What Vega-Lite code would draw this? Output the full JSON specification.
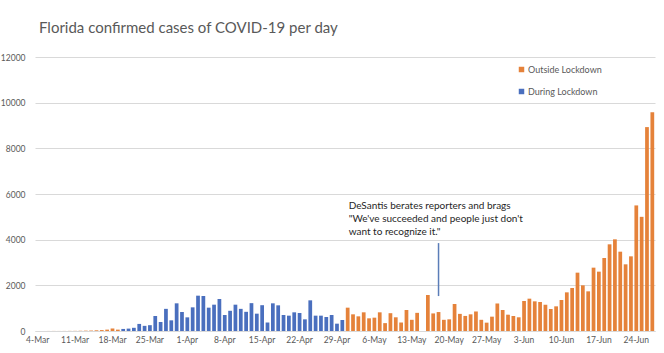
{
  "$schema": "https://vega.github.io/schema/vega-lite/v6.json",
  "width": 620,
  "height": 274,
  "autosize": {"type": "none"},
  "padding": {"left": 35, "top": 57, "right": 9, "bottom": 22},
  "title": {"text": "Florida confirmed cases of COVID-19 per day", "anchor": "start", "frame": "group", "dx": 4, "offset": 17, "fontSize": 15, "font": "Lato", "fontWeight": "normal", "color": "#595959"},
  "config": {"view": {"stroke": null}, "font": "Lato"},
  "datasets": {
    "cases": [
      {"date": "4-Mar", "cases": 1, "phase": "Outside Lockdown"},
      {"date": "5-Mar", "cases": 1, "phase": "Outside Lockdown"},
      {"date": "6-Mar", "cases": 2, "phase": "Outside Lockdown"},
      {"date": "7-Mar", "cases": 3, "phase": "Outside Lockdown"},
      {"date": "8-Mar", "cases": 2, "phase": "Outside Lockdown"},
      {"date": "9-Mar", "cases": 3, "phase": "Outside Lockdown"},
      {"date": "10-Mar", "cases": 5, "phase": "Outside Lockdown"},
      {"date": "11-Mar", "cases": 6, "phase": "Outside Lockdown"},
      {"date": "12-Mar", "cases": 10, "phase": "Outside Lockdown"},
      {"date": "13-Mar", "cases": 15, "phase": "Outside Lockdown"},
      {"date": "14-Mar", "cases": 20, "phase": "Outside Lockdown"},
      {"date": "15-Mar", "cases": 30, "phase": "Outside Lockdown"},
      {"date": "16-Mar", "cases": 40, "phase": "Outside Lockdown"},
      {"date": "17-Mar", "cases": 60, "phase": "Outside Lockdown"},
      {"date": "18-Mar", "cases": 110, "phase": "Outside Lockdown"},
      {"date": "19-Mar", "cases": 60, "phase": "Outside Lockdown"},
      {"date": "20-Mar", "cases": 90, "phase": "During Lockdown"},
      {"date": "21-Mar", "cases": 105, "phase": "During Lockdown"},
      {"date": "22-Mar", "cases": 140, "phase": "During Lockdown"},
      {"date": "23-Mar", "cases": 310, "phase": "During Lockdown"},
      {"date": "24-Mar", "cases": 225, "phase": "During Lockdown"},
      {"date": "25-Mar", "cases": 255, "phase": "During Lockdown"},
      {"date": "26-Mar", "cases": 657, "phase": "During Lockdown"},
      {"date": "27-Mar", "cases": 394, "phase": "During Lockdown"},
      {"date": "28-Mar", "cases": 970, "phase": "During Lockdown"},
      {"date": "29-Mar", "cases": 467, "phase": "During Lockdown"},
      {"date": "30-Mar", "cases": 1212, "phase": "During Lockdown"},
      {"date": "31-Mar", "cases": 832, "phase": "During Lockdown"},
      {"date": "1-Apr", "cases": 598, "phase": "During Lockdown"},
      {"date": "2-Apr", "cases": 1036, "phase": "During Lockdown"},
      {"date": "3-Apr", "cases": 1547, "phase": "During Lockdown"},
      {"date": "4-Apr", "cases": 1533, "phase": "During Lockdown"},
      {"date": "5-Apr", "cases": 1022, "phase": "During Lockdown"},
      {"date": "6-Apr", "cases": 1153, "phase": "During Lockdown"},
      {"date": "7-Apr", "cases": 1401, "phase": "During Lockdown"},
      {"date": "8-Apr", "cases": 700, "phase": "During Lockdown"},
      {"date": "9-Apr", "cases": 885, "phase": "During Lockdown"},
      {"date": "10-Apr", "cases": 1153, "phase": "During Lockdown"},
      {"date": "11-Apr", "cases": 970, "phase": "During Lockdown"},
      {"date": "12-Apr", "cases": 840, "phase": "During Lockdown"},
      {"date": "13-Apr", "cases": 1220, "phase": "During Lockdown"},
      {"date": "14-Apr", "cases": 759, "phase": "During Lockdown"},
      {"date": "15-Apr", "cases": 1130, "phase": "During Lockdown"},
      {"date": "16-Apr", "cases": 372, "phase": "During Lockdown"},
      {"date": "17-Apr", "cases": 1212, "phase": "During Lockdown"},
      {"date": "18-Apr", "cases": 1124, "phase": "During Lockdown"},
      {"date": "19-Apr", "cases": 700, "phase": "During Lockdown"},
      {"date": "20-Apr", "cases": 672, "phase": "During Lockdown"},
      {"date": "21-Apr", "cases": 818, "phase": "During Lockdown"},
      {"date": "22-Apr", "cases": 788, "phase": "During Lockdown"},
      {"date": "23-Apr", "cases": 511, "phase": "During Lockdown"},
      {"date": "24-Apr", "cases": 1343, "phase": "During Lockdown"},
      {"date": "25-Apr", "cases": 672, "phase": "During Lockdown"},
      {"date": "26-Apr", "cases": 672, "phase": "During Lockdown"},
      {"date": "27-Apr", "cases": 613, "phase": "During Lockdown"},
      {"date": "28-Apr", "cases": 700, "phase": "During Lockdown"},
      {"date": "29-Apr", "cases": 321, "phase": "During Lockdown"},
      {"date": "30-Apr", "cases": 482, "phase": "During Lockdown"},
      {"date": "1-May", "cases": 1022, "phase": "Outside Lockdown"},
      {"date": "2-May", "cases": 730, "phase": "Outside Lockdown"},
      {"date": "3-May", "cases": 642, "phase": "Outside Lockdown"},
      {"date": "4-May", "cases": 818, "phase": "Outside Lockdown"},
      {"date": "5-May", "cases": 555, "phase": "Outside Lockdown"},
      {"date": "6-May", "cases": 584, "phase": "Outside Lockdown"},
      {"date": "7-May", "cases": 818, "phase": "Outside Lockdown"},
      {"date": "8-May", "cases": 345, "phase": "Outside Lockdown"},
      {"date": "9-May", "cases": 780, "phase": "Outside Lockdown"},
      {"date": "10-May", "cases": 600, "phase": "Outside Lockdown"},
      {"date": "11-May", "cases": 372, "phase": "Outside Lockdown"},
      {"date": "12-May", "cases": 920, "phase": "Outside Lockdown"},
      {"date": "13-May", "cases": 490, "phase": "Outside Lockdown"},
      {"date": "14-May", "cases": 795, "phase": "Outside Lockdown"},
      {"date": "15-May", "cases": 0, "phase": "Outside Lockdown"},
      {"date": "16-May", "cases": 1577, "phase": "Outside Lockdown"},
      {"date": "17-May", "cases": 770, "phase": "Outside Lockdown"},
      {"date": "18-May", "cases": 830, "phase": "Outside Lockdown"},
      {"date": "19-May", "cases": 490, "phase": "Outside Lockdown"},
      {"date": "20-May", "cases": 511, "phase": "Outside Lockdown"},
      {"date": "21-May", "cases": 1182, "phase": "Outside Lockdown"},
      {"date": "22-May", "cases": 750, "phase": "Outside Lockdown"},
      {"date": "23-May", "cases": 660, "phase": "Outside Lockdown"},
      {"date": "24-May", "cases": 730, "phase": "Outside Lockdown"},
      {"date": "25-May", "cases": 855, "phase": "Outside Lockdown"},
      {"date": "26-May", "cases": 490, "phase": "Outside Lockdown"},
      {"date": "27-May", "cases": 365, "phase": "Outside Lockdown"},
      {"date": "28-May", "cases": 628, "phase": "Outside Lockdown"},
      {"date": "29-May", "cases": 1205, "phase": "Outside Lockdown"},
      {"date": "30-May", "cases": 920, "phase": "Outside Lockdown"},
      {"date": "31-May", "cases": 715, "phase": "Outside Lockdown"},
      {"date": "1-Jun", "cases": 657, "phase": "Outside Lockdown"},
      {"date": "2-Jun", "cases": 600, "phase": "Outside Lockdown"},
      {"date": "3-Jun", "cases": 1314, "phase": "Outside Lockdown"},
      {"date": "4-Jun", "cases": 1416, "phase": "Outside Lockdown"},
      {"date": "5-Jun", "cases": 1299, "phase": "Outside Lockdown"},
      {"date": "6-Jun", "cases": 1270, "phase": "Outside Lockdown"},
      {"date": "7-Jun", "cases": 1153, "phase": "Outside Lockdown"},
      {"date": "8-Jun", "cases": 963, "phase": "Outside Lockdown"},
      {"date": "9-Jun", "cases": 1080, "phase": "Outside Lockdown"},
      {"date": "10-Jun", "cases": 1358, "phase": "Outside Lockdown"},
      {"date": "11-Jun", "cases": 1693, "phase": "Outside Lockdown"},
      {"date": "12-Jun", "cases": 1883, "phase": "Outside Lockdown"},
      {"date": "13-Jun", "cases": 2555, "phase": "Outside Lockdown"},
      {"date": "14-Jun", "cases": 2000, "phase": "Outside Lockdown"},
      {"date": "15-Jun", "cases": 1737, "phase": "Outside Lockdown"},
      {"date": "16-Jun", "cases": 2774, "phase": "Outside Lockdown"},
      {"date": "17-Jun", "cases": 2599, "phase": "Outside Lockdown"},
      {"date": "18-Jun", "cases": 3197, "phase": "Outside Lockdown"},
      {"date": "19-Jun", "cases": 3796, "phase": "Outside Lockdown"},
      {"date": "20-Jun", "cases": 4015, "phase": "Outside Lockdown"},
      {"date": "21-Jun", "cases": 3474, "phase": "Outside Lockdown"},
      {"date": "22-Jun", "cases": 2920, "phase": "Outside Lockdown"},
      {"date": "23-Jun", "cases": 3270, "phase": "Outside Lockdown"},
      {"date": "24-Jun", "cases": 5500, "phase": "Outside Lockdown"},
      {"date": "25-Jun", "cases": 5000, "phase": "Outside Lockdown"},
      {"date": "26-Jun", "cases": 8930, "phase": "Outside Lockdown"},
      {"date": "27-Jun", "cases": 9580, "phase": "Outside Lockdown"}
    ],
    "note": [
      {"date": "18-May", "low": 1530, "high": 3850},
      {"date": "1-May", "top": 5350, "label": ["DeSantis berates reporters and brags", "\"We've succeeded and people just don't", "want to recognize it.\""]}
    ]
  },
  "layer": [
    {
      "data": {"name": "cases"},
      "mark": {"type": "bar"},
      "encoding": {
        "x": {
          "field": "date", "type": "ordinal", "sort": null,
          "scale": {"paddingInner": 0.3, "paddingOuter": 0.15},
          "axis": {
            "title": null, "labelAngle": 0, "ticks": false, "domainColor": "#D9D9D9",
            "labelColor": "#595959", "labelFontSize": 8.5, "labelPadding": 4,
            "values": ["4-Mar", "11-Mar", "18-Mar", "25-Mar", "1-Apr", "8-Apr", "15-Apr", "22-Apr", "29-Apr", "6-May", "13-May", "20-May", "27-May", "3-Jun", "10-Jun", "17-Jun", "24-Jun"]
          }
        },
        "y": {
          "field": "cases", "type": "quantitative",
          "scale": {"domain": [0, 12000], "nice": false},
          "axis": {
            "title": null, "domain": false, "ticks": false, "gridColor": "#D9D9D9",
            "labelColor": "#595959", "labelFontSize": 8.5, "labelPadding": 10,
            "values": [0, 2000, 4000, 6000, 8000, 10000, 12000], "format": "d"
          }
        },
        "color": {
          "field": "phase", "type": "nominal",
          "scale": {"domain": ["Outside Lockdown", "During Lockdown"], "range": ["#E5823A", "#4A6FBE"]},
          "legend": {
            "title": null, "orient": "none", "legendX": 482, "legendY": 8,
            "symbolType": "square", "symbolSize": 30, "labelFontSize": 9,
            "labelColor": "#595959", "rowPadding": 12, "padding": 0, "labelOffset": 2
          }
        }
      }
    },
    {
      "data": {"name": "note"},
      "transform": [{"filter": "datum.low != null"}],
      "mark": {"type": "rule", "color": "#5B7DB8", "strokeWidth": 1.5},
      "encoding": {
        "x": {"field": "date", "type": "ordinal", "sort": null},
        "y": {"field": "low", "type": "quantitative"},
        "y2": {"field": "high"}
      }
    },
    {
      "data": {"name": "note"},
      "transform": [{"filter": "datum.top != null"}],
      "mark": {"type": "text", "align": "left", "baseline": "alphabetic", "fontSize": 10, "lineHeight": 13, "color": "#262626", "dx": 1},
      "encoding": {
        "x": {"field": "date", "type": "ordinal", "sort": null},
        "y": {"field": "top", "type": "quantitative"},
        "text": {"field": "label"}
      }
    }
  ]
}
